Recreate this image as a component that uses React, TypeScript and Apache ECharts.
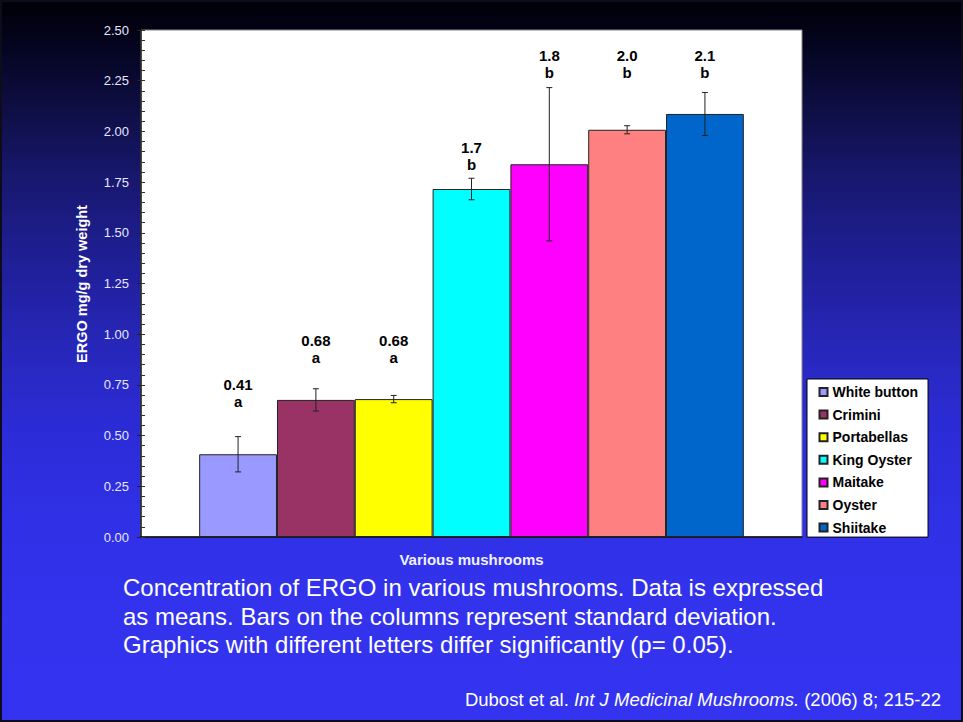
import React, { useEffect, useRef } from 'react';
import * as echarts from 'echarts';

const categories = ['White button', 'Crimini', 'Portabellas', 'King Oyster', 'Maitake', 'Oyster', 'Shiitake'];
const means = [0.408, 0.676, 0.68, 1.716, 1.838, 2.008, 2.086];
const sds = [0.087, 0.055, 0.018, 0.053, 0.378, 0.02, 0.106];
const valueLabels = ['0.41', '0.68', '0.68', '1.7', '1.8', '2.0', '2.1'];
const groupLetters = ['a', 'a', 'a', 'b', 'b', 'b', 'b'];
const labelLevels = [0.711, 0.929, 0.929, 1.88, 2.334, 2.334, 2.334];
const barColors = ['#9999ff', '#993366', '#ffff00', '#00ffff', '#ff00ff', '#ff8080', '#0066cc'];
const xCategory = ['Various mushrooms'];
const captionLines = [
  'Concentration of ERGO in various mushrooms. Data is expressed',
  'as means. Bars on the columns represent standard deviation.',
  'Graphics with different letters differ significantly (p= 0.05).',
];

const FONT = '"Liberation Sans", Arial, Helvetica, sans-serif';

export default function App() {
  const ref = useRef<HTMLDivElement>(null);
  useEffect(() => {
    const chart = echarts.init(ref.current!, null, { renderer: 'svg' });
    const gapFrac = 0.176;
    const n = categories.length;
    const barSeries = categories.map((name, i) => ({
      name,
      type: 'bar',
      data: [means[i]],
      barGap: '0%',
      barCategoryGap: (gapFrac * 100).toFixed(1) + '%',
      itemStyle: { color: barColors[i], borderColor: '#222', borderWidth: 1 },
    }));
    const option: any = {
      animation: false,
      backgroundColor: 'transparent',
      textStyle: { fontFamily: FONT },
      grid: {
        left: 141, top: 30, right: 161, bottom: 185,
        show: true, backgroundColor: '#ffffff', borderColor: '#888', borderWidth: 1,
      },
      legend: {
        data: categories,
        orient: 'vertical',
        left: 807, top: 379,
        backgroundColor: '#ffffff', borderColor: '#000', borderWidth: 1,
        padding: [6, 10, 2.5, 11.5],
        icon: 'rect', itemWidth: 8, itemHeight: 8, itemGap: 8.6, itemTextGap: 4,
        textStyle: { fontFamily: FONT, fontSize: 14, fontWeight: 'bold', color: '#000', lineHeight: 14 },
      },
      xAxis: {
        type: 'category',
        data: xCategory,
        axisLine: { lineStyle: { color: '#000', width: 1.5 } },
        axisTick: { show: false },
        axisLabel: { color: '#f0f0ff', fontSize: 15, fontWeight: 'bold', fontFamily: FONT, margin: 15 },
      },
      yAxis: [
        {
          type: 'value', min: 0, max: 2.5, interval: 0.25,
          axisLine: { show: true, lineStyle: { color: '#222', width: 1.5 } },
          axisTick: { show: true, length: 4, lineStyle: { color: '#222' } },
          axisLabel: { color: '#e6e6ff', fontSize: 13, fontFamily: FONT, margin: 12, formatter: (v: number) => v.toFixed(2) },
          splitLine: { show: false },
        },
        {
          type: 'value', min: 0, max: 2.5, interval: 0.05, position: 'left',
          axisLine: { show: false },
          axisTick: { show: true, inside: true, length: 4, lineStyle: { color: '#333' } },
          axisLabel: { show: false },
          splitLine: { show: false },
        },
      ],
      series: [
        ...barSeries,
        {
          type: 'custom',
          name: 'errors',
          z: 5,
          data: means.map((m, i) => [0, m, sds[i], i]),
          renderItem: (params: any, api: any) => {
            const i = api.value(3) as number;
            const mean = api.value(1) as number;
            const sd = api.value(2) as number;
            const c = api.coord([0, mean]);
            const band = api.size([1, 0])[0];
            const total = band * (1 - gapFrac);
            const w = total / n;
            const x = c[0] - total / 2 + (i + 0.5) * w;
            const yT = api.coord([0, mean + sd])[1];
            const yB = api.coord([0, mean - sd])[1];
            const yL = api.coord([0, labelLevels[i]])[1];
            const st = { stroke: '#222', lineWidth: 1 };
            return {
              type: 'group',
              children: [
                { type: 'line', shape: { x1: x, y1: yT, x2: x, y2: yB }, style: st },
                { type: 'line', shape: { x1: x - 3, y1: yT, x2: x + 3, y2: yT }, style: st },
                { type: 'line', shape: { x1: x - 3, y1: yB, x2: x + 3, y2: yB }, style: st },
                {
                  type: 'text', x, y: yL,
                  style: {
                    text: valueLabels[i] + '\n' + groupLetters[i],
                    fill: '#000', align: 'center', verticalAlign: 'middle',
                    fontSize: 15, fontWeight: 'bold', fontFamily: FONT, lineHeight: 17,
                  },
                },
              ],
            };
          },
        },
      ],
      graphic: [
        {
          type: 'text', x: 82, y: 284, rotation: Math.PI / 2,
          style: {
            text: 'ERGO mg/g dry weight', fill: '#ffffff', align: 'center', verticalAlign: 'middle',
            fontSize: 14.5, fontWeight: 'bold', fontFamily: FONT,
          },
        },
        ...captionLines.map((t, k) => ({
          type: 'text', x: 123, y: [587.7, 616.7, 644.7][k],
          style: { text: t, fill: '#ffffff', align: 'left', verticalAlign: 'middle', fontSize: 24, fontFamily: FONT },
        })),
        {
          type: 'text', x: 941, y: 699,
          style: {
            text: 'Dubost et al. {i|Int J Medicinal Mushrooms.} (2006) 8; 215-22',
            fill: '#ffffff', align: 'right', verticalAlign: 'middle', fontSize: 18.5, fontFamily: FONT,
            rich: { i: { fontStyle: 'italic', fontSize: 18.5, fontFamily: FONT, fill: '#ffffff' } },
          },
        },
        {
          type: 'rect', shape: { x: 1, y: 1, width: 961, height: 720 },
          style: { fill: 'none', stroke: '#0c0c1a', lineWidth: 2 },
        },
      ],
    };
    chart.setOption(option);
    return () => chart.dispose();
  }, []);
  return (
    <div
      ref={ref}
      style={{
        position: 'fixed', left: 0, top: 0, width: 963, height: 722,
        background: 'linear-gradient(to bottom, #000006 0%, #04041e 6%, #0e0e44 15%, #181870 25%, #20209c 38%, #2828c0 50%, #2c2cd8 60%, #3030e6 72%, #3333ee 85%, #3434f0 100%)',
      }}
    />
  );
}
